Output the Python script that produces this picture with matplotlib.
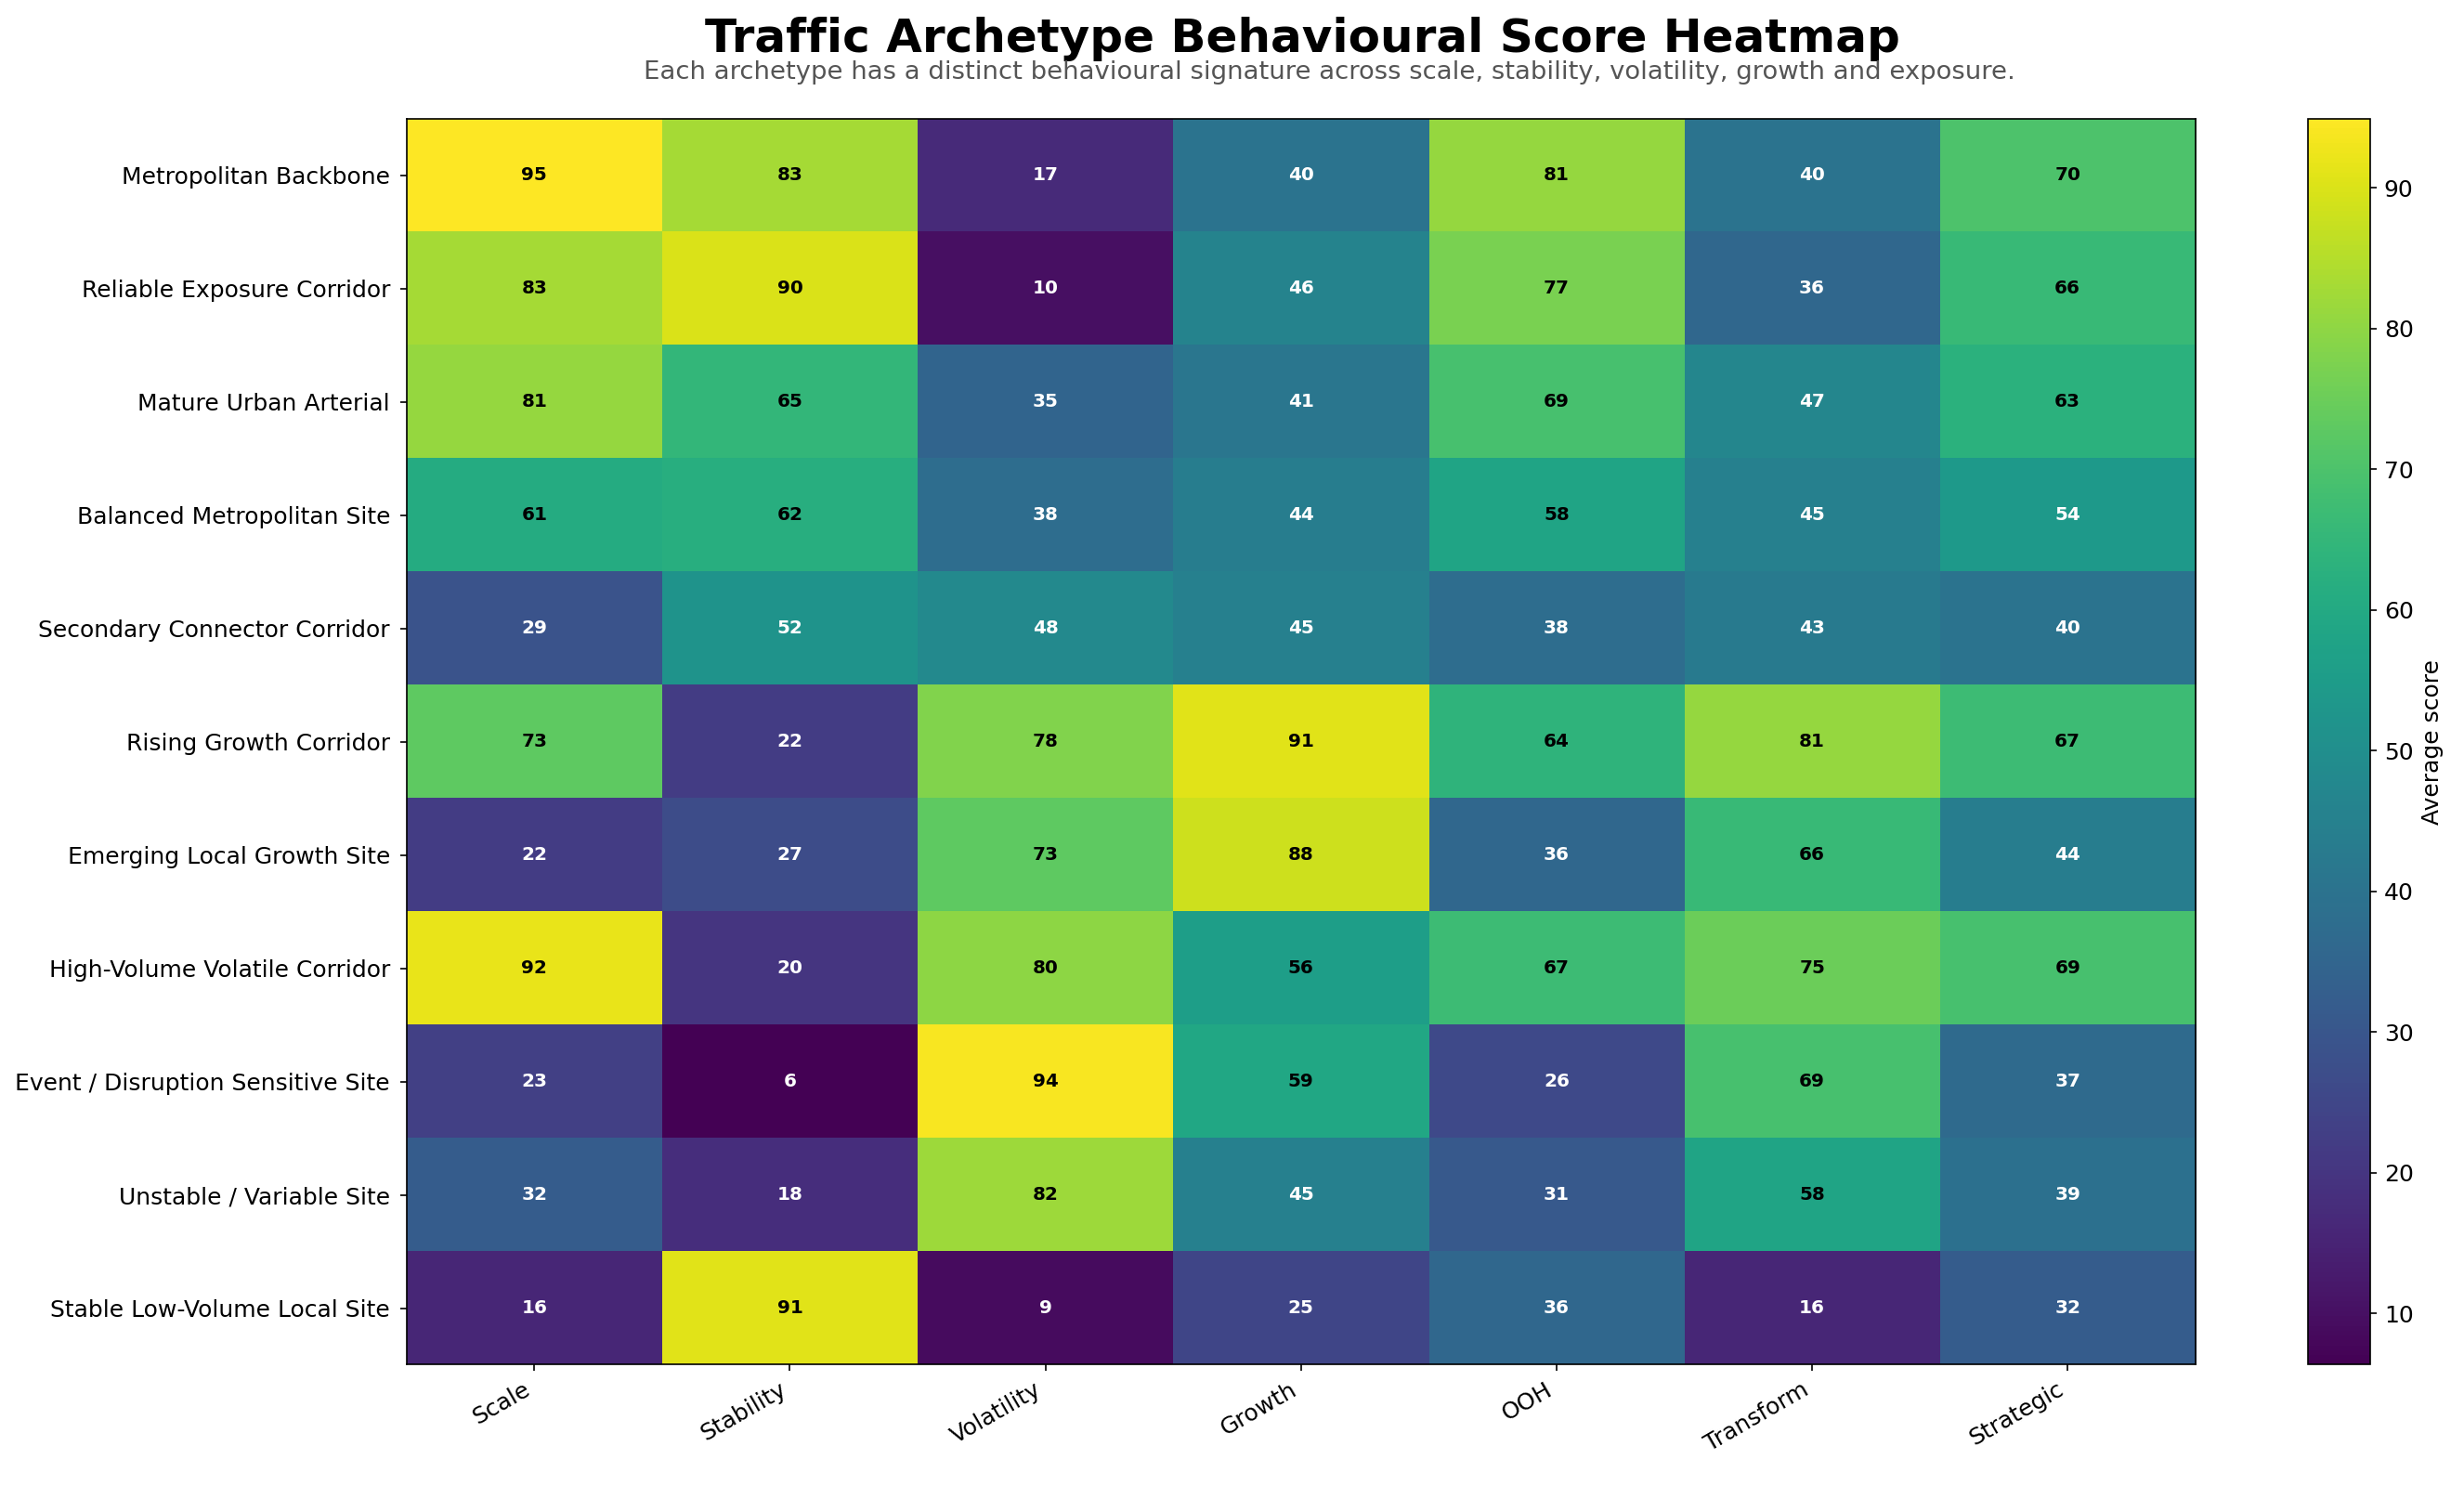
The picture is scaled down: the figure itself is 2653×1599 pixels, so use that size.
import numpy as np
import matplotlib
matplotlib.use("Agg")
import matplotlib.pyplot as plt

archetypes = [
    "Metropolitan Backbone",
    "Reliable Exposure Corridor",
    "Mature Urban Arterial",
    "Balanced Metropolitan Site",
    "Secondary Connector Corridor",
    "Rising Growth Corridor",
    "Emerging Local Growth Site",
    "High-Volume Volatile Corridor",
    "Event / Disruption Sensitive Site",
    "Unstable / Variable Site",
    "Stable Low-Volume Local Site",
]
metrics = ["Scale", "Stability", "Volatility", "Growth", "OOH", "Transform", "Strategic"]

# average score per archetype (rows) and metric (columns)
scale      = [94.9, 83, 81, 61, 29, 73, 22, 92, 23, 32, 16]
stability  = [83, 90, 65, 62, 52, 22, 27, 20, 6.35, 18, 91]
volatility = [17, 10, 35, 38, 48, 78, 73, 80, 94, 82, 9]
growth     = [40, 46, 41, 44, 45, 91, 88, 56, 59, 45, 25]
ooh        = [81, 77, 69, 58, 38, 64, 36, 67, 26, 31, 36]
transform  = [40, 36, 47, 45, 43, 81, 66, 75, 69, 58, 16]
strategic  = [70, 66, 63, 54, 40, 67, 44, 69, 37, 39, 32]

scores = np.array([scale, stability, volatility, growth, ooh, transform, strategic]).T

fig = plt.figure(figsize=(2653 / 150, 1599 / 150), dpi=150)
ax = fig.add_axes([0.165, 0.081, 0.726, 0.839])
cax = fig.add_axes([0.9365, 0.081, 0.0255, 0.839])

im = ax.imshow(scores, cmap="viridis", aspect="auto")

ax.set_xticks(range(len(metrics)))
ax.set_xticklabels(metrics, rotation=30, ha="right", fontsize=12)
ax.set_yticks(range(len(archetypes)))
ax.set_yticklabels(archetypes, fontsize=12)
ax.tick_params(axis="y", pad=5)

# write each score in its cell
for i in range(scores.shape[0]):
    for j in range(scores.shape[1]):
        v = scores[i, j]
        ax.text(j, i, f"{v:.0f}", ha="center", va="center", fontsize=9.6,
                fontweight="bold", color="black" if v > 55 else "white")

cb = fig.colorbar(im, cax=cax)
cb.set_label("Average score", fontsize=12)
cb.ax.tick_params(labelsize=12)

fig.text(0.5285, 0.974, "Traffic Archetype Behavioural Score Heatmap",
         ha="center", va="center", fontsize=24, fontweight="bold")
fig.text(0.5395, 0.951,
         "Each archetype has a distinct behavioural signature across scale, stability, volatility, growth and exposure.",
         ha="center", va="center", fontsize=13.2, color="#555555")

fig.savefig("out.png", dpi=150)
